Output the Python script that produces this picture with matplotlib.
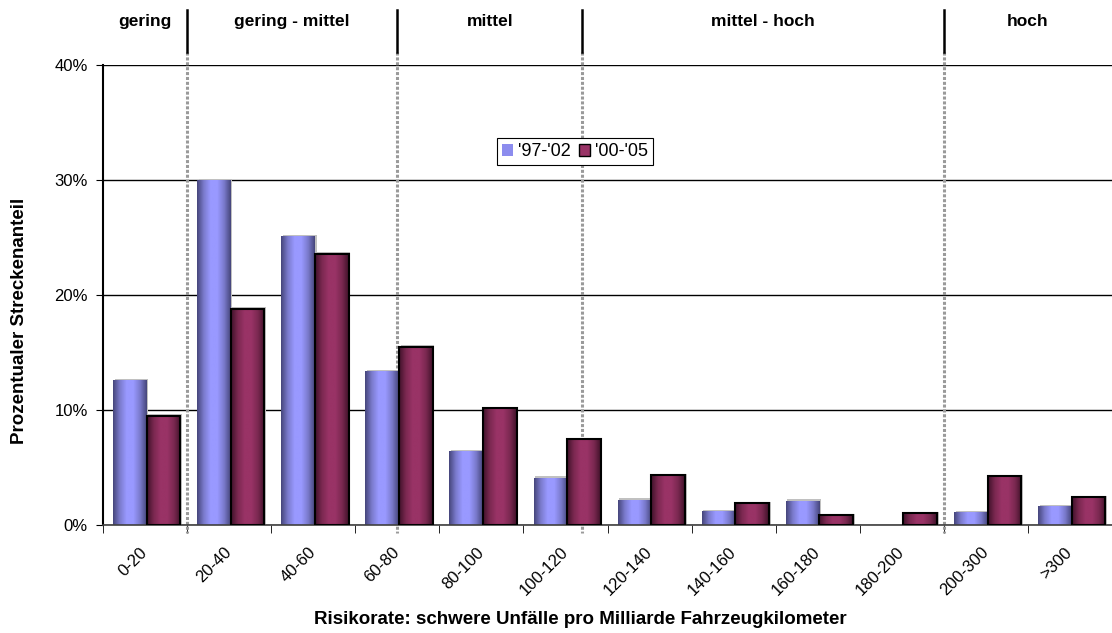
import numpy as np
import matplotlib
matplotlib.use("Agg")
import matplotlib.pyplot as plt
from matplotlib.colors import LinearSegmentedColormap
from matplotlib.patches import Patch

plt.rcParams['font.family'] = ['Liberation Sans', 'DejaVu Sans']

# Streckenanteile je Risikoklasse (in %)
kategorien = ['0-20', '20-40', '40-60', '60-80', '80-100', '100-120',
              '120-140', '140-160', '160-180', '180-200', '200-300', '>300']
werte_97_02 = [12.6, 30.0, 25.1, 13.4, 6.4, 4.1, 2.2, 1.2, 2.1, 0.0, 1.1, 1.65]
werte_00_05 = [9.5, 18.8, 23.6, 15.5, 10.15, 7.45, 4.35, 1.9, 0.85, 1.05, 4.25, 2.4]

# Risikobereiche oben: Grenzen auf der x-Achse und Beschriftung
bereich_grenzen = [0.5, 3.0, 5.2, 9.5]
bereich_namen = ['gering', 'gering - mittel', 'mittel', 'mittel - hoch', 'hoch']

fig = plt.figure(figsize=(11.12, 6.33), dpi=100)
ax = fig.add_axes([103 / 1112, 1 - 525 / 633, 1 - 103 / 1112, 460 / 633])

x = np.arange(len(kategorien))
breite = 0.4

blau = LinearSegmentedColormap.from_list(
    'blau', ['#45457a', '#7a7acc', '#9999ff', '#9999ff', '#7a7acc', '#45457a'])
rot = LinearSegmentedColormap.from_list(
    'rot', ['#3f1129', '#7a2850', '#993366', '#993366', '#7a2850', '#3f1129'])
verlauf = np.linspace(0, 1, 256).reshape(1, -1)


def balken(pos, werte, cmap, rand):
    # Schatten leicht rechts oben
    for p, w in zip(pos, werte):
        if w > 0:
            ax.bar(p + 0.02, w + 0.12, breite, color='#c0c0c0', zorder=2)
    bars = ax.bar(pos, werte, breite, color='none', zorder=3,
                  edgecolor=rand, linewidth=1.5 if rand != 'none' else 0)
    for b in bars:
        if b.get_height() <= 0:
            continue
        x0, w, h = b.get_x(), b.get_width(), b.get_height()
        im = ax.imshow(verlauf, cmap=cmap, aspect='auto',
                       extent=[x0, x0 + w, 0, h], zorder=2.5)
        im.set_clip_path(b)
    return bars


balken(x - 0.18, werte_97_02, blau, 'none')
balken(x + 0.22, werte_00_05, rot, 'black')

ax.set_xlim(-0.5, len(kategorien) - 0.5)
ax.set_ylim(0, 40)

ax.set_yticks([0, 10, 20, 30, 40])
ax.set_yticklabels(['0%', '10%', '20%', '30%', '40%'], fontsize=12)
ax.yaxis.grid(True, color='black', linewidth=1)
ax.set_axisbelow(True)

ax.set_xticks(x)
ax.set_xticklabels(kategorien, rotation=45, ha='right', va='center',
                   rotation_mode='anchor', fontsize=12)
ax.tick_params(axis='x', which='major', length=0, pad=18)
ax.set_xticks(np.arange(-0.5, len(kategorien)), minor=True)
ax.tick_params(axis='x', which='minor', length=6, color='black')
ax.tick_params(axis='y', length=5, color='black', pad=6)

for s in ['top', 'right']:
    ax.spines[s].set_visible(False)
ax.spines['left'].set_linewidth(1.5)
ax.spines['bottom'].set_color('#404040')
ax.spines['bottom'].set_linewidth(1.2)

trans = ax.get_xaxis_transform()
for g in bereich_grenzen:
    ax.plot([g, g], [1.028, -0.017], transform=trans, color='#9a9a9a',
            linestyle=(0, (1, 0.6)), linewidth=2.2, clip_on=False, zorder=1)
    ax.plot([g, g], [1.12, 1.028], transform=trans, color='black',
            linewidth=1.8, clip_on=False)

kanten = [-0.5] + bereich_grenzen + [len(kategorien) - 0.5]
for i, name in enumerate(bereich_namen):
    ax.text((kanten[i] + kanten[i + 1]) / 2, 1.0935, name, transform=trans,
            ha='center', va='center', fontsize=12.5, fontweight='bold')

leg = ax.legend(handles=[Patch(facecolor='#8c8cee', edgecolor='none'),
                         Patch(facecolor='#993366', edgecolor='black')],
                labels=["'97-'02", "'00-'05"], ncol=2, fontsize=13,
                loc='center', bbox_to_anchor=(575 / 1009, 1 - 151.5 / 460 + 65 / 460 - 65 / 460),
                handlelength=0.6, handleheight=0.65, handletextpad=0.25,
                columnspacing=0.5, borderpad=0.3, fancybox=False,
                framealpha=1, edgecolor='black')
leg.set_bbox_to_anchor(((575 - 103) / 1009, (525 - 151.5) / 460), transform=ax.transAxes)
leg.get_frame().set_linewidth(0.8)

fig.text(20 / 1112, 1 - 321 / 633, 'Prozentualer Streckenanteil', rotation=90,
         ha='center', va='center', fontsize=13.5, fontweight='bold')
fig.text(580 / 1112, 1 - 620 / 633,
         'Risikorate: schwere Unfälle pro Milliarde Fahrzeugkilometer',
         ha='center', va='center', fontsize=13.5, fontweight='bold')

fig.savefig('out.png', dpi=100)
